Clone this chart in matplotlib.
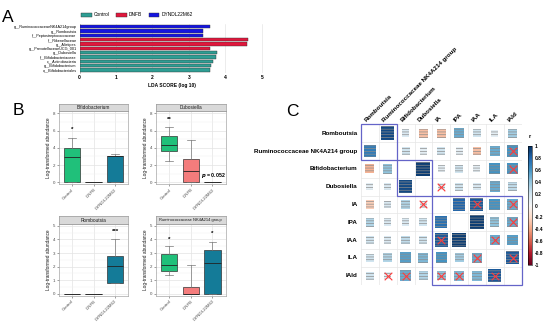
import numpy as np
import matplotlib
matplotlib.use('Agg')
import matplotlib.pyplot as plt
from matplotlib.patches import Rectangle, Patch
from matplotlib import cm, colors

plt.rcParams['font.family'] = ['Liberation Sans', 'DejaVu Sans']
plt.rcParams['hatch.linewidth'] = 0.5

W, H = 550, 323
fig = plt.figure(figsize=(5.5, 3.23), dpi=100)


def px_axes(x0, y0, x1, y1):
    # axes placed in pixel units of the 550x323 canvas (y from top)
    return fig.add_axes([x0 / W, 1 - y1 / H, (x1 - x0) / W, (y1 - y0) / H])


# ---------------- data: A (LEfSe) ----------------
lda_taxa = ['g__RuminococcaceaeNK4A214group', 'g__Romboutsia', 'f__Peptostreptococcaceae',
            'f__Rikenellaceae', 'g__Alistipes', 'g__PrevotellaceaeUCG_001',
            'g__Dubosiella', 'f__Bifidobacteriaceae', 'c__Actinobacteria',
            'g__Bifidobacterium', 'o__Bifidobacteriales']
lda_score = [3.58, 3.39, 3.39, 4.62, 4.58, 3.58, 3.78, 3.74, 3.67, 3.60, 3.58]
lda_group = ['DYNDL22M62'] * 3 + ['DNFB'] * 3 + ['Control'] * 5
lda_groups = ['Control', 'DNFB', 'DYNDL22M62']
lda_colors = {'Control': '#2E9E94', 'DNFB': '#E0173C', 'DYNDL22M62': '#1515E0'}

# ---------------- data: B (boxplots) ----------------
box_groups = ['Control', 'DNFB', 'DYNDL22M62']
box_colors = ['#20C07A', '#F47C7C', '#147B98']
# per group: (whislo, q1, med, q3, whishi)
bifido_stats = [(0, 0, 2.95, 4.0, 5.1), (0, 0, 0, 0, 0), (0, 0, 3.05, 3.1, 3.3)]
dubo_stats = [(2.5, 3.6, 4.3, 5.35, 6.4), (0, 0, 1.25, 2.65, 4.85), (0, 0, 0, 0, 0)]
rombo_stats = [(0, 0, 0, 0, 0), (0, 0, 0, 0, 0), (0.82, 0.82, 2.05, 2.8, 4.05)]
rumino_stats = [(1.4, 1.7, 2.1, 2.9, 3.5), (0, 0, 0, 0.5, 2.1), (0, 0, 2.3, 3.25, 3.8)]
bifido_stars = {1: ('*', 6.1)}
dubo_stars = {1: ('**', 7.3)}
rombo_stars = {3: ('***', 4.55)}
rumino_stars = {1: ('*', 4.0), 3: ('*', 4.43)}

# ---------------- data: C (correlation) ----------------
corr_names = ['Romboutsia', 'Ruminococcaceae NK4A214 group', 'Bifidobacterium', 'Dubosiella',
              'IA', 'IPA', 'IAA', 'ILA', 'IAld']
corr_r = [
    [0.00, 0.90, 0.15, -0.30, -0.30, 0.50, 0.20, 0.10, 0.35],
    [0.70, 0.00, 0.20, 0.10, 0.20, 0.10, -0.30, 0.50, 0.60],
    [-0.35, 0.40, 0.00, 0.95, 0.10, 0.20, 0.10, 0.60, 0.60],
    [0.10, 0.15, 0.90, 0.00, 0.10, 0.20, 0.15, 0.50, 0.25],
    [-0.25, 0.15, 0.30, 0.10, 0.00, 0.80, 0.85, 0.60, 0.50],
    [0.30, 0.15, 0.15, 0.20, 0.75, 0.00, 0.95, 0.40, 0.50],
    [0.20, 0.15, 0.25, 0.20, 0.85, 0.95, 0.00, 0.50, 0.55],
    [0.20, 0.30, 0.55, 0.45, 0.60, 0.35, 0.50, 0.00, 0.85],
    [0.20, 0.10, 0.50, 0.30, 0.40, 0.45, 0.45, 0.85, 0.00],
]
# non-significant cells (row, col) marked with a cross
ns_rows = [1, 2, 3, 4, 4, 4, 5, 6, 6, 7, 7, 8, 8, 8, 8, 8]
ns_cols = [8, 8, 4, 3, 6, 8, 8, 4, 7, 6, 8, 1, 2, 4, 5, 7]
clusters = [(0, 2), (2, 4), (4, 9)]

# ================= Panel A =================
axa = px_axes(79.5, 24.1, 263.8, 72.6)
ypos = np.arange(len(lda_taxa))
axa.barh(ypos, lda_score, height=0.8, color=[lda_colors[g] for g in lda_group],
         edgecolor='#333333', linewidth=0.3, zorder=3)
axa.set_ylim(10.6, -0.6)
axa.set_xlim(0, 5.05)
axa.set_yticks(ypos)
axa.set_yticklabels(lda_taxa, fontsize=2.7)
axa.set_xticks(range(6))
axa.set_xticklabels([str(i) for i in range(6)], fontsize=3.6, fontweight='bold')
axa.tick_params(length=0, pad=2)
axa.grid(axis='x', color='#DDDDDD', lw=0.4)
for s in ['top', 'right', 'bottom']:
    axa.spines[s].set_visible(False)
axa.spines['left'].set_color('#AAAAAA')
axa.spines['left'].set_linewidth(0.5)
axa.set_xlabel('LDA SCORE (log 10)', fontsize=3.5, fontweight='bold', labelpad=2)

handles = [Patch(facecolor=lda_colors[g], edgecolor='#333333', lw=0.3) for g in lda_groups]
fig.legend(handles, lda_groups, loc='center', bbox_to_anchor=(137 / W, 1 - 15 / H), ncol=3,
           frameon=False, fontsize=3.5, handlelength=2.2, handleheight=0.9,
           handletextpad=0.4, columnspacing=1.3)

fig.text(1.5 / W, 1 - 21.7 / H, 'A', fontsize=12.5, va='baseline')
fig.text(13 / W, 1 - 115 / H, 'B', fontsize=12.5, va='baseline')
fig.text(286.5 / W, 1 - 115.7 / H, 'C', fontsize=12.5, va='baseline')


# ================= Panel B =================
def box_panel(box, title, stats, stars, ylim, yticks, tfs=3.4):
    x0, y0, x1, y1 = box
    ax = px_axes(x0, y0, x1, y1)
    strip_h = 7 if ylim[1] > 6 else 8
    st = px_axes(x0, y0 - strip_h, x1, y0)
    st.set_facecolor('#D9D9D9')
    st.set_xticks([]); st.set_yticks([])
    for s in st.spines.values():
        s.set_color('#9A9A9A'); s.set_linewidth(0.5)
    st.text(0.5, 0.5, title, fontsize=tfs, ha='center', va='center', color='#1A1A1A',
            transform=st.transAxes)

    bstats = []
    for g, (lo, q1, med, q3, hi) in zip(box_groups, stats):
        bstats.append(dict(label=g, whislo=lo, q1=q1, med=med, q3=q3, whishi=hi, fliers=[]))
    bp = ax.bxp(bstats, positions=[1, 2, 3], widths=0.75, capwidths=0.35, patch_artist=True,
                boxprops=dict(lw=0.5, edgecolor='#333333'),
                whiskerprops=dict(lw=0.5, color='#777777'),
                capprops=dict(lw=0.5, color='#777777'),
                medianprops=dict(lw=0.6, color='#222222'), zorder=3)
    for patch, c in zip(bp['boxes'], box_colors):
        patch.set_facecolor(c)
    for k, (txt, yv) in stars.items():
        ax.text(k, yv, txt, ha='center', va='center', fontsize=4.5, fontweight='bold')

    ax.set_xlim(0.4, 3.6)
    ax.set_ylim(*ylim)
    ax.set_yticks(yticks)
    ax.set_yticklabels([str(t) for t in yticks])
    ax.set_yticks([t + (yticks[1] - yticks[0]) / 2 for t in yticks[:-1]], minor=True)
    ax.set_xticks([1, 2, 3])
    ax.set_xticklabels(box_groups, rotation=45, ha='right', rotation_mode='anchor')
    ax.tick_params(labelsize=3.2, labelcolor='#4D4D4D', length=1.5, width=0.4,
                   color='#555555', pad=1)
    ax.tick_params(which='minor', length=0)
    ax.grid(axis='both', which='major', color='#E3E3E3', lw=0.5, zorder=0)
    ax.grid(axis='y', which='minor', color='#F0F0F0', lw=0.3, zorder=0)
    ax.set_axisbelow(True)
    for s in ax.spines.values():
        s.set_color('#A6A6A6'); s.set_linewidth(0.5)
    ax.set_ylabel('Log-transformed abundance', fontsize=3.4, labelpad=1.5, color='#1A1A1A')
    return ax


box_panel((59, 110.7, 128, 184.4), 'Bifidobacterium', bifido_stats, bifido_stars,
          (-0.25, 8.3), [0, 2, 4, 6, 8])
axd = box_panel((156, 110.7, 225.5, 184.4), 'Dubosiella', dubo_stats, dubo_stars,
                (-0.25, 8.3), [0, 2, 4, 6, 8])
axd.text(2.45, 0.8, r'$\bfit{p}$ = 0.052', fontsize=3.8, fontweight='bold',
         ha='left', va='center')
box_panel((59, 224, 128, 295.7), 'Romboutsia', rombo_stats, rombo_stars,
          (-0.13, 5.13), [0, 1, 2, 3, 4, 5])
box_panel((156, 224, 225.5, 295.7), 'Ruminococcaceae NK4A214 group', rumino_stats, rumino_stars,
          (-0.13, 5.13), [0, 1, 2, 3, 4, 5], tfs=2.9)

# ================= Panel C =================
axc = px_axes(361, 124.3, 521.5, 284.5)
n = len(corr_names)
axc.set_xlim(0, n)
axc.set_ylim(n, 0)
axc.axis('off')
cmap = plt.get_cmap('RdBu')
norm = colors.Normalize(-1, 1)
for k in range(n + 1):
    axc.axhline(k, color='#E6E6E6', lw=0.5, zorder=1)
    axc.axvline(k, color='#E6E6E6', lw=0.5, zorder=1)
for i in range(n):
    for j in range(n):
        r = corr_r[i][j]
        if r == 0:
            continue
        s = 0.35 + 0.45 * abs(r)
        axc.add_patch(Rectangle((j + 0.5 - s / 2, i + 0.5 - s / 2), s, s,
                                facecolor=cmap(norm(r)), edgecolor='#8C8C8C', lw=0,
                                hatch='------', zorder=2))
axc.scatter(np.array(ns_cols) + 0.5, np.array(ns_rows) + 0.5, marker='x', s=30,
            color='#FF3B3B', linewidths=0.8, zorder=4)
for a, b in clusters:
    axc.add_patch(Rectangle((a, a), b - a, b - a, fill=False, edgecolor='#6464C8',
                            lw=0.9, zorder=5, clip_on=False))
for i, name in enumerate(corr_names):
    axc.text(-0.2, i + 0.5, name, ha='right', va='center', fontsize=4.5, fontweight='bold')
    axc.text(i + 0.35, -0.1, name, ha='left', va='bottom', rotation=45,
             rotation_mode='anchor', fontsize=4.5, fontweight='bold')

cax = px_axes(528, 146, 532, 265)
cb = fig.colorbar(cm.ScalarMappable(norm=norm, cmap=cmap), cax=cax,
                  ticks=np.linspace(-1, 1, 11))
cb_labels = ['-1', '-0.8', '-0.6', '-0.4', '-0.2', '0', '0.2', '0.4', '0.6', '0.8', '1']
cb.ax.set_yticklabels(cb_labels, fontsize=3.5, fontweight='bold')
cb.ax.tick_params(length=0, pad=2)
cb.outline.set_linewidth(0.4)
cax.text(0.5, 1.06, 'r', transform=cax.transAxes, ha='center', va='bottom',
         fontsize=4, fontweight='bold')

fig.savefig('out.png', dpi=100)
